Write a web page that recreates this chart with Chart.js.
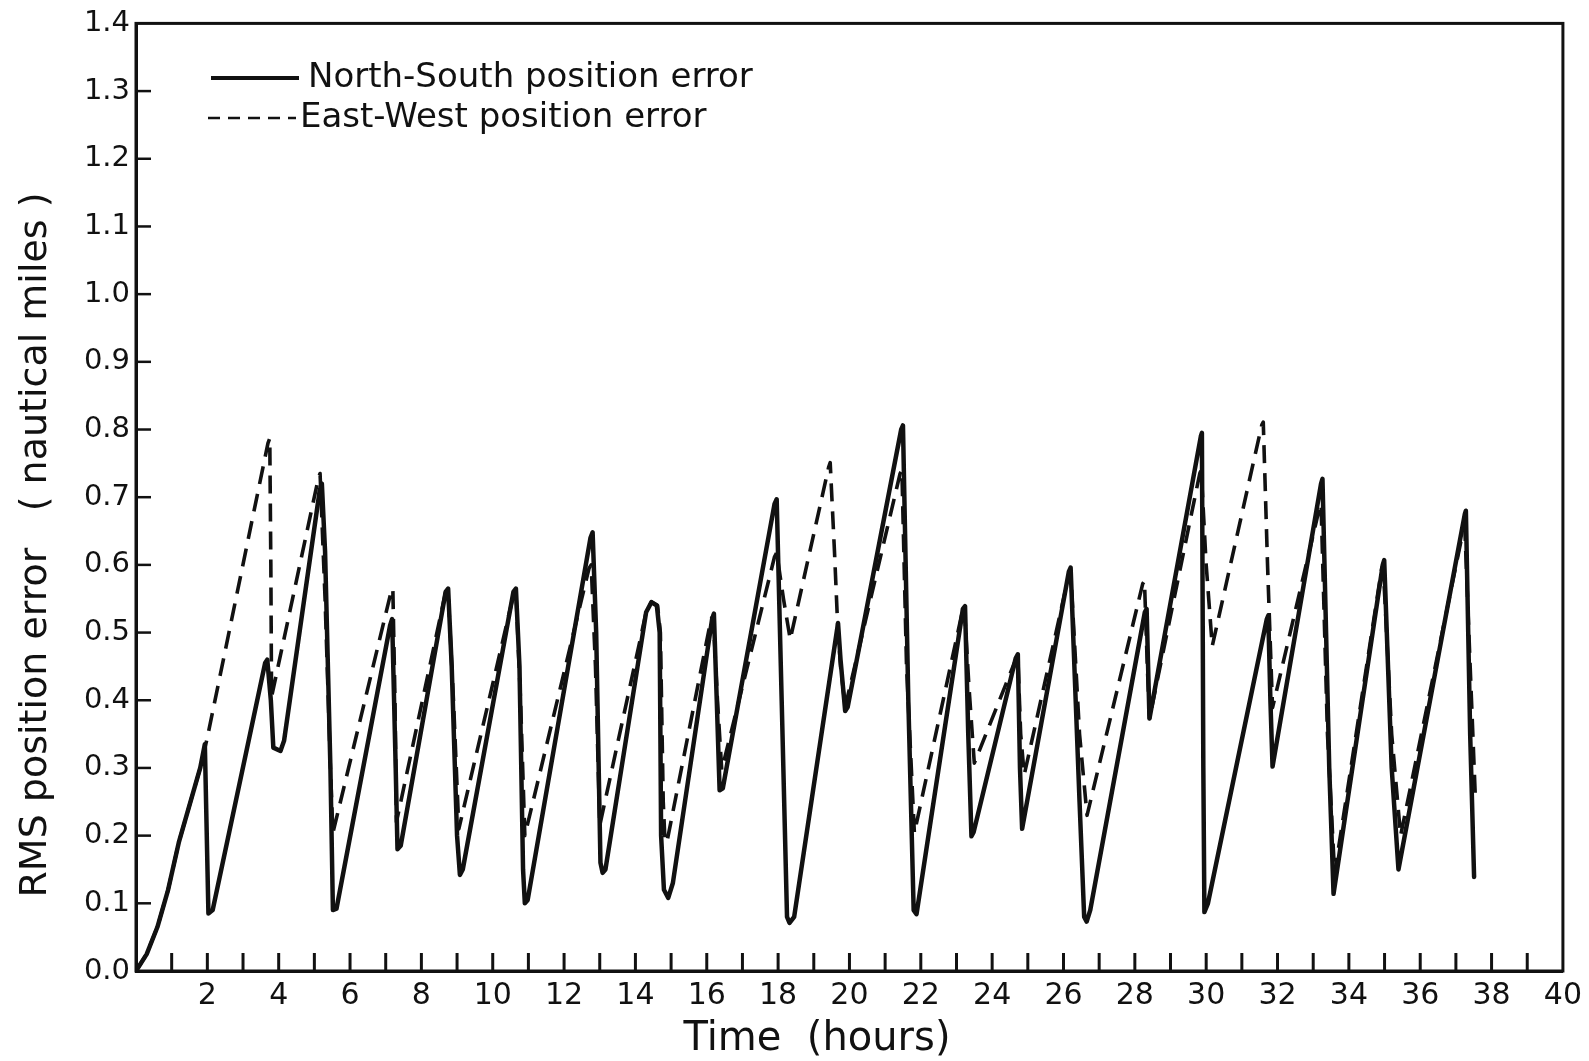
<!DOCTYPE html>
<html>
<head>
<meta charset="utf-8">
<script src="https://cdn.jsdelivr.net/npm/chart.js@4/dist/chart.umd.min.js"></script>
<style>
  html, body { margin: 0; padding: 0; background: #fff; }
  #c { display: block; }
</style>
</head>
<body>
<canvas id="c" width="1589" height="1061"></canvas>
<script>
// ---- Data ----
const nsLabel = "North-South position error";
const ewLabel = "East-West position error";
const xTitle = "Time  (hours)";
const yTitle = "RMS position error   ( nautical miles )";

const nsHours = [0,0.3,0.6,0.9,1.2,1.5,1.8,1.93,2.03,2.15,3.62,3.68,3.78,3.85,4.05,4.15,5.15,5.21,5.3,5.45,5.52,5.62,7.12,7.18,7.28,7.33,7.42,8.68,8.75,8.85,9.0,9.08,9.16,10.58,10.65,10.75,10.85,10.9,10.98,12.74,12.8,12.9,13.02,13.08,13.16,14.3,14.45,14.6,14.68,14.72,14.8,14.92,15.05,16.15,16.2,16.28,16.36,16.45,17.9,17.96,18.1,18.25,18.32,18.45,19.68,19.75,19.88,19.95,21.45,21.5,21.65,21.8,21.88,23.18,23.24,23.33,23.42,23.48,24.66,24.72,24.78,24.84,26.15,26.2,26.45,26.58,26.65,26.75,28.28,28.33,28.41,29.85,29.88,29.92,29.95,30.05,31.7,31.74,31.8,31.86,33.22,33.26,33.45,33.57,34.95,34.99,35.2,35.39,37.25,37.28,37.4,37.51];
const nsError = [0,0.025,0.065,0.12,0.19,0.245,0.30,0.335,0.085,0.09,0.455,0.46,0.40,0.33,0.325,0.34,0.71,0.72,0.62,0.30,0.09,0.092,0.51,0.52,0.30,0.18,0.185,0.56,0.565,0.45,0.20,0.142,0.15,0.56,0.565,0.45,0.15,0.10,0.105,0.64,0.648,0.50,0.16,0.145,0.15,0.53,0.545,0.54,0.50,0.20,0.12,0.108,0.13,0.52,0.528,0.40,0.267,0.27,0.69,0.697,0.40,0.08,0.071,0.08,0.514,0.46,0.384,0.39,0.80,0.806,0.40,0.09,0.084,0.535,0.539,0.35,0.199,0.205,0.462,0.468,0.30,0.21,0.59,0.596,0.25,0.08,0.073,0.09,0.53,0.535,0.373,0.79,0.795,0.30,0.087,0.10,0.52,0.525,0.40,0.302,0.72,0.727,0.30,0.114,0.60,0.607,0.30,0.15,0.675,0.68,0.35,0.139];

const ewHours = [0,0.3,0.6,0.9,1.2,1.5,1.8,2.0,3.7,3.75,3.78,3.8,5.12,5.16,5.3,5.45,5.52,7.15,7.2,7.26,7.3,8.68,8.75,8.9,9.05,10.58,10.65,10.78,10.9,12.7,12.76,12.88,13.0,14.3,14.45,14.62,14.7,14.78,14.83,14.9,16.12,16.18,16.3,16.42,17.9,17.96,18.15,18.34,19.42,19.46,19.58,19.67,19.75,19.88,21.42,21.47,21.6,21.82,23.16,23.22,23.35,23.5,24.66,24.72,24.8,24.9,26.15,26.2,26.45,26.66,28.22,28.27,28.35,28.41,29.82,29.86,30.0,30.17,31.56,31.6,31.72,31.86,33.18,33.22,33.4,33.6,34.92,34.96,35.2,35.45,37.2,37.25,37.4,37.55];
const ewError = [0,0.025,0.065,0.12,0.19,0.245,0.30,0.345,0.78,0.787,0.60,0.405,0.73,0.735,0.55,0.30,0.204,0.56,0.565,0.40,0.22,0.56,0.56,0.40,0.21,0.555,0.56,0.40,0.20,0.595,0.60,0.45,0.215,0.53,0.545,0.54,0.50,0.25,0.19,0.195,0.52,0.525,0.40,0.297,0.612,0.618,0.55,0.49,0.745,0.751,0.62,0.51,0.45,0.39,0.735,0.74,0.45,0.204,0.53,0.538,0.42,0.307,0.46,0.465,0.35,0.29,0.585,0.59,0.35,0.23,0.572,0.576,0.45,0.373,0.735,0.74,0.60,0.48,0.807,0.811,0.60,0.389,0.685,0.69,0.35,0.144,0.595,0.60,0.35,0.20,0.65,0.655,0.45,0.25];

const xMin = 0, xMax = 40, xLabelStep = 2, xMinorStep = 1;
const yMin = 0, yMax = 1.4, yStep = 0.1;

// ---- Build chart ----
const INK = '#111111';
const FONT = '"DejaVu Sans", "Liberation Sans", sans-serif';

function pts(xs, ys) { return xs.map((x, i) => ({ x: x, y: ys[i] })); }

const frameAndExtras = {
  id: 'frameAndExtras',
  afterDraw(chart) {
    const { ctx, chartArea: a, scales } = chart;
    const xs = scales.x, ys = scales.y;
    ctx.save();
    ctx.strokeStyle = INK;
    ctx.fillStyle = INK;
    // frame
    ctx.lineWidth = 3;
    ctx.strokeRect(a.left, a.top, a.right - a.left, a.bottom - a.top);
    // inward x tick marks every hour
    ctx.lineWidth = 3;
    for (let h = xMin + xMinorStep; h < xMax; h += xMinorStep) {
      const px = xs.getPixelForValue(h);
      ctx.beginPath();
      ctx.moveTo(px, a.bottom);
      ctx.lineTo(px, a.bottom - 18);
      ctx.stroke();
    }
    // inward y tick marks
    ctx.lineWidth = 2.5;
    for (let k = 1; k < Math.round((yMax - yMin) / yStep); k++) {
      const py = ys.getPixelForValue(yMin + k * yStep);
      ctx.beginPath();
      ctx.moveTo(a.left, py);
      ctx.lineTo(a.left + 15, py);
      ctx.stroke();
    }
    // legend
    const ds = chart.data.datasets;
    ctx.font = '34px ' + FONT;
    ctx.textBaseline = 'middle';
    ctx.textAlign = 'left';
    ctx.lineWidth = 4;
    ctx.setLineDash([]);
    ctx.beginPath(); ctx.moveTo(211, 78); ctx.lineTo(299, 78); ctx.stroke();
    ctx.fillText(ds[0].label, 308, 78);
    ctx.lineWidth = 2.5;
    ctx.setLineDash([12, 8]);
    ctx.beginPath(); ctx.moveTo(208, 118); ctx.lineTo(296, 118); ctx.stroke();
    ctx.setLineDash([]);
    ctx.fillText(ds[1].label, 300, 118);
    // axis titles
    ctx.textAlign = 'center';
    ctx.font = '40px ' + FONT;
    ctx.fillText(xTitle, 817, 1040);
    ctx.save();
    ctx.translate(36, 545);
    ctx.rotate(-Math.PI / 2);
    ctx.font = '38px ' + FONT;
    ctx.fillText(yTitle, 0, 0);
    ctx.restore();
    ctx.restore();
  }
};

new Chart(document.getElementById('c'), {
  type: 'line',
  data: {
    datasets: [
      {
        label: nsLabel,
        data: pts(nsHours, nsError),
        borderColor: INK,
        borderWidth: 4.5,
        borderJoinStyle: 'round',
        borderCapStyle: 'round',
        pointRadius: 0,
        tension: 0,
        fill: false
      },
      {
        label: ewLabel,
        data: pts(ewHours, ewError),
        borderColor: INK,
        borderWidth: 3.6,
        borderDash: [18, 10],
        borderJoinStyle: 'round',
        pointRadius: 0,
        tension: 0,
        fill: false
      }
    ]
  },
  options: {
    responsive: false,
    animation: false,
    devicePixelRatio: 1,
    layout: { padding: { left: 0, right: 23, top: 20, bottom: 0 } },
    plugins: { legend: { display: false }, tooltip: { enabled: false }, title: { display: false } },
    scales: {
      x: {
        type: 'linear',
        min: xMin, max: xMax,
        grid: { display: false, drawTicks: false },
        border: { display: true, color: INK, width: 3 },
        ticks: {
          stepSize: xLabelStep,
          color: INK,
          font: { family: FONT, size: 30 },
          padding: 7,
          maxRotation: 0,
          autoSkip: false,
          callback: v => (v === 0 ? '' : String(v))
        },
        afterFit: s => { s.height = 90; }
      },
      y: {
        type: 'linear',
        min: yMin, max: yMax,
        grid: { display: false, drawTicks: false },
        border: { display: true, color: INK, width: 3 },
        ticks: {
          stepSize: yStep,
          color: INK,
          font: { family: FONT, size: 29 },
          padding: 6,
          autoSkip: false,
          callback: v => Number(v).toFixed(1)
        },
        afterFit: s => { s.width = 136; }
      }
    }
  },
  plugins: [frameAndExtras]
});
</script>
</body>
</html>
